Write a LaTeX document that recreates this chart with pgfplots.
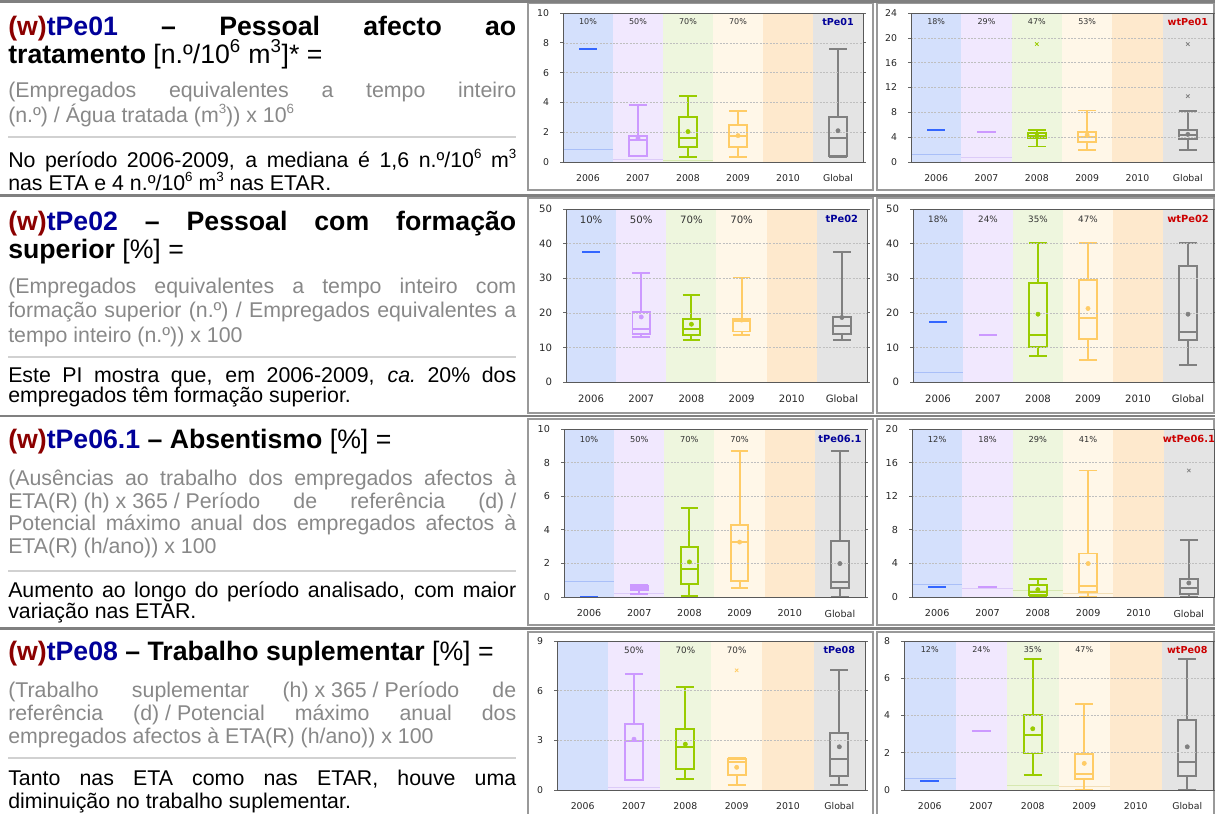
\documentclass[border=0pt]{standalone}
\usepackage{fontspec}
\setmainfont{Liberation Sans}
\newfontfamily\chartfont{DejaVu Sans}
\usepackage{pgfplots}
\pgfplotsset{compat=1.18}
\usepgfplotslibrary{statistics}
\definecolor{bA}{HTML}{D4E0FC}
\definecolor{bB}{HTML}{F1E8FE}
\definecolor{bC}{HTML}{EEF6DE}
\definecolor{bD}{HTML}{FFF7E8}
\definecolor{bE}{HTML}{FEE9CD}
\definecolor{bF}{HTML}{E4E4E4}
\definecolor{cA}{HTML}{3366FF}
\definecolor{cB}{HTML}{CC99FF}
\definecolor{cC}{HTML}{99CC00}
\definecolor{cD}{HTML}{FFCC66}
\definecolor{cF}{HTML}{808080}
\definecolor{fA}{HTML}{A9BFF8}
\definecolor{fB}{HTML}{DCCBF8}
\definecolor{fC}{HTML}{D6E8B0}
\definecolor{fD}{HTML}{F3DFB8}
\definecolor{tblue}{HTML}{000099}
\definecolor{wred}{HTML}{CC0000}
\definecolor{maroon}{HTML}{8B0000}
\definecolor{txtgray}{HTML}{888888}
\pgfplotsset{chart/.style={scale only axis, anchor=south west, xmin=-0.5, xmax=5.5, ymin=0,
  xtick={0,...,5}, xticklabels={2006,2007,2008,2009,2010,Global}, x tick style={draw=none},
  axis on top, ymajorgrids, grid style={dash pattern=on 1.5pt off 1pt, black!25, line width=0.4pt},
  axis line style={black!65, line width=0.6pt}, tick align=outside, major tick length=2pt,
  y tick style={black!60, line width=0.5pt}, /pgf/number format/assume math mode=true,
  ticklabel style={font=\chartfont\fontsize{#1}{#1}\selectfont, text=black!85},
  xticklabel style={yshift=-4pt}, yticklabel style={xshift=-5pt}}}
\newcommand\bands[1]{%
  \addplot[fill=bA,draw=none] coordinates {(-0.5,#1)(0.5,#1)}\closedcycle;
  \addplot[fill=bB,draw=none] coordinates {(0.5,#1)(1.5,#1)}\closedcycle;
  \addplot[fill=bC,draw=none] coordinates {(1.5,#1)(2.5,#1)}\closedcycle;
  \addplot[fill=bD,draw=none] coordinates {(2.5,#1)(3.5,#1)}\closedcycle;
  \addplot[fill=bE,draw=none] coordinates {(3.5,#1)(4.5,#1)}\closedcycle;
  \addplot[fill=bF,draw=none] coordinates {(4.5,#1)(5.5,#1)}\closedcycle;}
% color, pos, lw, lq, med, uq, uw, mean
\newcommand\bx[8]{%
  \addplot[#1, line width=1.45pt, boxplot prepared={draw direction=y, draw position=#2, lower whisker=#3,
    lower quartile=#4, median=#5, upper quartile=#6, upper whisker=#7,
    box extend=0.35, whisker extend=0.35}] coordinates {};
  \addplot[#1, only marks, mark=*, mark size=1.6pt] coordinates {(#2,#8)};}
\newcommand\hln[4]{\addplot[#1, line width=1.5pt] coordinates {(#2,#4)(#3,#4)};}
\newcommand\fln[4]{\addplot[#1, line width=0.6pt] coordinates {(#2,#4)(#3,#4)};}
\newcommand\oln[3]{\addplot[#1, only marks, mark=x, mark size=1.8pt, line width=0.6pt] coordinates {(#2,#3)};}
\newcommand\pln[4]{\node[font=\chartfont\fontsize{#1}{#1}\selectfont, text=black!80] at (axis cs:#2,#3) {#4};}
\newcommand\nmn[5]{\node[font=\chartfont\bfseries\fontsize{#1}{#1}\selectfont, text=#5] at (axis cs:#2,#3) {#4};}
\newcommand\HD{\fontsize{20}{24}\selectfont}
\newcommand\BD{\fontsize{16}{19}\selectfont}
\newcommand\Jn[3]{\node[anchor=base west, inner sep=0pt, font=#2] at (8,#1) {\makebox[381pt][s]{#3}};}
\newcommand\Ln[3]{\node[anchor=base west, inner sep=0pt, font=#2] at (8,#1) {#3};}
\newcommand\wtn[1]{\textcolor{maroon}{\textbf{(w)}}\textcolor{tblue}{\textbf{#1}}}
\newcommand\sps[1]{\raisebox{0.4em}{\fontsize{10}{10}\selectfont #1}}
\begin{document}
\begin{tikzpicture}[x=0.75pt,y=-0.75pt]
\useasboundingbox (0,0) rectangle (1215,814);
% table rules
\foreach \ya/\yb in {3/190, 198/413, 419/625, 632/816} {
  \draw[black!40, line width=0.9pt] (528,\ya) rectangle (873,\yb);
  \draw[black!40, line width=0.9pt] (877,\ya) rectangle (1214,\yb);}
\foreach \yy in {1.5,195.5,416,628.5} {\draw[black!50, line width=2pt] (0,\yy) -- (1215,\yy);}
\foreach \yy in {137,357,571,758} {\draw[black!18, line width=1pt] (8,\yy) -- (516,\yy);}
% ---------- left text ----------
\Jn{35}{\HD}{\wtn{tPe01} \textbf{– Pessoal afecto ao}}
\Ln{63}{\HD}{\textbf{tratamento} [n.º/10\textsuperscript{6} m\textsuperscript{3}]* =}
\Jn{97}{\BD\color{txtgray}}{(Empregados equivalentes a tempo inteiro}
\Ln{122}{\BD\color{txtgray}}{(n.º) / Água tratada (m\sps{3})) x 10\sps{6}}
\Jn{167}{\BD}{No período 2006-2009, a mediana é 1,6 n.º/10\sps{6} m\sps{3}}
\Ln{190}{\BD}{nas ETA e 4 n.º/10\sps{6} m\sps{3} nas ETAR.}
%
\Jn{230}{\HD}{\wtn{tPe02} \textbf{– Pessoal com formação}}
\Ln{258}{\HD}{\textbf{superior} [\%] =}
\Jn{293}{\BD\color{txtgray}}{(Empregados equivalentes a tempo inteiro com}
\Jn{317}{\BD\color{txtgray}}{formação superior (n.º) / Empregados equivalentes a}
\Ln{342}{\BD\color{txtgray}}{tempo inteiro (n.º)) x 100}
\Jn{382}{\BD}{Este PI mostra que, em 2006-2009, \textit{ca.}\ 20\% dos}
\Ln{402}{\BD}{empregados têm formação superior.}
%
\Ln{448}{\HD}{\wtn{tPe06.1} \textbf{– Absentismo} [\%] =}
\Jn{485}{\BD\color{txtgray}}{(Ausências ao trabalho dos empregados afectos à}
\Jn{508}{\BD\color{txtgray}}{\mbox{ETA(R) (h) x 365 / Período} de referência \mbox{(d) /}}
\Jn{530}{\BD\color{txtgray}}{Potencial máximo anual dos empregados afectos à}
\Ln{553}{\BD\color{txtgray}}{ETA(R) (h/ano)) x 100}
\Jn{597}{\BD}{Aumento ao longo do período analisado, com maior}
\Ln{618}{\BD}{variação nas ETAR.}
%
\Ln{660}{\HD}{\wtn{tPe08} \textbf{– Trabalho suplementar} [\%] =}
\Jn{697}{\BD\color{txtgray}}{(Trabalho suplementar \mbox{(h) x 365 / Período} de}
\Jn{720}{\BD\color{txtgray}}{referência \mbox{(d) / Potencial} máximo anual dos}
\Ln{743}{\BD\color{txtgray}}{empregados afectos à ETA(R) (h/ano)) x 100}
\Jn{785}{\BD}{Tanto nas ETA como nas ETAR, houve uma}
\Ln{808}{\BD}{diminuição no trabalho suplementar.}
% ---------- Chart A: tPe01 ----------
\begin{axis}[chart=7, at={(422.25pt,-121.5pt)}, width=225pt, height=111.75pt, ymax=10, ytick={0,2,...,10}]
\bands{10}
\fln{fA}{-0.5}{0.5}{0.87}\fln{fB}{0.5}{1.5}{0.2}\fln{fC}{1.5}{2.5}{0.1}
\hln{cA}{-0.18}{0.18}{7.6}
\bx{cB}{1}{0.38}{0.42}{1.5}{1.72}{3.85}{1.6}
\bx{cC}{2}{0.31}{0.98}{1.59}{3.02}{4.4}{2.04}
\bx{cD}{3}{0.31}{0.98}{1.72}{2.46}{3.45}{1.77}
\bx{cF}{5}{0.34}{0.42}{1.61}{3.02}{7.6}{2.1}
\pln{6}{0}{9.4}{10\%}\pln{6}{1}{9.4}{50\%}\pln{6}{2}{9.4}{70\%}\pln{6}{3}{9.4}{70\%}
\nmn{7.2}{5}{9.4}{tPe01}{tblue}
\end{axis}
% ---------- Chart B: wtPe01 ----------
\begin{axis}[chart=7, at={(683.25pt,-121.5pt)}, width=226.5pt, height=111.75pt, ymax=24, ytick={0,4,...,24}]
\bands{24}
\fln{fA}{-0.5}{0.5}{1.3}\fln{fB}{0.5}{1.5}{0.8}
\hln{cA}{-0.18}{0.18}{5.1}
\hln{cB}{0.82}{1.18}{4.85}
\bx{cC}{2}{2.5}{3.9}{4.25}{4.7}{5.2}{4.2}
\bx{cD}{3}{1.9}{3.2}{4.0}{4.8}{8.3}{4.35}
\bx{cF}{5}{1.9}{3.7}{4.4}{5.1}{8.2}{4.45}
\oln{cC}{2}{19}\oln{cF}{5}{19}\oln{cF}{5}{10.6}
\pln{6}{0}{22.56}{18\%}\pln{6}{1}{22.56}{29\%}\pln{6}{2}{22.56}{47\%}\pln{6}{3}{22.56}{53\%}
\nmn{7.2}{5}{22.56}{wtPe01}{wred}
\end{axis}
% ---------- Chart C: tPe02 ----------
\begin{axis}[chart=7.6, at={(424.5pt,-286.5pt)}, width=225.75pt, height=129.75pt, ymax=50, ytick={0,10,...,50}]
\bands{50}
\hln{cA}{-0.18}{0.18}{37.7}
\bx{cB}{1}{13.1}{13.9}{15.3}{20.1}{31.5}{18.8}
\bx{cC}{2}{12.2}{13.7}{15.3}{18.3}{25.2}{16.7}
\bx{cD}{3}{13.7}{14.6}{17.5}{18.3}{30.2}{17.9}
\bx{cF}{5}{12.2}{13.85}{16.25}{18.75}{37.7}{18.65}
\pln{7.6}{0}{47}{10\%}\pln{7.6}{1}{47}{50\%}\pln{7.6}{2}{47}{70\%}\pln{7.6}{3}{47}{70\%}
\nmn{7.4}{5}{47}{tPe02}{tblue}
\end{axis}
% ---------- Chart D: wtPe02 ----------
\begin{axis}[chart=7.6, at={(684.75pt,-286.5pt)}, width=225pt, height=129.75pt, ymax=50, ytick={0,10,...,50}]
\bands{50}
\fln{fA}{-0.5}{0.5}{2.9}
\hln{cA}{-0.18}{0.18}{17.2}
\hln{cB}{0.82}{1.18}{13.65}
\bx{cC}{2}{7.5}{10.0}{13.5}{28.6}{40.1}{19.6}
\bx{cD}{3}{6.35}{12.4}{18.5}{29.4}{40.1}{21.25}
\bx{cF}{5}{5.0}{12.2}{14.4}{33.6}{40.1}{19.6}
\pln{6.6}{0}{47}{18\%}\pln{6.6}{1}{47}{24\%}\pln{6.6}{2}{47}{35\%}\pln{6.6}{3}{47}{47\%}
\nmn{7.4}{5}{47}{wtPe02}{wred}
\end{axis}
% ---------- Chart E: tPe06.1 ----------
\begin{axis}[chart=7.2, at={(423pt,-447.75pt)}, width=225.75pt, height=126pt, ymax=10, ytick={0,2,...,10}]
\bands{10}
\fln{fA}{-0.5}{0.5}{0.94}\fln{fB}{0.5}{1.5}{0.2}
\hln{cA}{-0.18}{0.18}{0.03}
\bx{cB}{1}{0.16}{0.4}{0.54}{0.65}{0.7}{0.58}
\bx{cC}{2}{0.04}{0.8}{1.69}{2.95}{5.32}{2.09}
\bx{cD}{3}{0.54}{0.96}{3.29}{4.28}{8.67}{3.27}
\bx{cF}{5}{0}{0.54}{0.9}{3.33}{8.67}{1.99}
\pln{6.2}{0}{9.4}{10\%}\pln{6.2}{1}{9.4}{50\%}\pln{6.2}{2}{9.4}{70\%}\pln{6.2}{3}{9.4}{70\%}
\nmn{7.4}{5}{9.4}{tPe06.1}{tblue}
\end{axis}
% ---------- Chart F: wtPe06.1 ----------
\begin{axis}[chart=7.2, at={(684pt,-447.75pt)}, width=226.5pt, height=126pt, ymax=20, ytick={0,4,...,20}]
\bands{20}
\fln{fA}{-0.5}{0.5}{1.55}\fln{fB}{0.5}{1.5}{1.08}\fln{fC}{1.5}{2.5}{0.8}\fln{fD}{2.5}{3.5}{0.48}
\hln{cA}{-0.18}{0.18}{1.15}
\hln{cB}{0.82}{1.18}{1.23}
\bx{cC}{2}{0}{0.2}{0.6}{1.4}{2.1}{0.88}
\bx{cD}{3}{0}{0.6}{1.27}{5.18}{15.06}{3.98}
\bx{cF}{5}{0}{0.32}{1.08}{2.11}{6.77}{1.67}
\oln{cF}{5}{15.06}
\pln{6.2}{0}{18.8}{12\%}\pln{6.2}{1}{18.8}{18\%}\pln{6.2}{2}{18.8}{29\%}\pln{6.2}{3}{18.8}{41\%}
\nmn{7.4}{5}{18.8}{wtPe06.1}{wred}
\end{axis}
% ---------- Chart G: tPe08 ----------
\begin{axis}[chart=7, at={(417.75pt,-592.5pt)}, width=231pt, height=111.75pt, ymax=9, ytick={0,3,6,9}]
\bands{9}
\fln{fB}{0.5}{1.5}{0.16}
\bx{cB}{1}{0.6}{0.62}{2.95}{3.96}{7.0}{3.07}
\bx{cC}{2}{0.66}{1.29}{2.61}{3.71}{6.2}{2.77}
\bx{cD}{3}{0.3}{0.9}{1.7}{1.85}{1.95}{1.37}
\bx{cF}{5}{0.3}{0.86}{1.85}{3.47}{7.23}{2.61}
\oln{cD}{3}{7.23}
\pln{6.6}{1}{8.46}{50\%}\pln{6.6}{2}{8.46}{70\%}\pln{6.6}{3}{8.46}{70\%}
\nmn{7.2}{5}{8.46}{tPe08}{tblue}
\end{axis}
% ---------- Chart H: wtPe08 ----------
\begin{axis}[chart=7, at={(678pt,-592.5pt)}, width=231.75pt, height=111.75pt, ymax=8, ytick={0,2,...,8}]
\bands{8}
\fln{fA}{-0.5}{0.5}{0.63}\fln{fC}{1.5}{2.5}{0.25}\fln{fD}{2.5}{3.5}{0.21}
\hln{cA}{-0.18}{0.18}{0.5}
\hln{cB}{0.82}{1.18}{3.18}
\bx{cC}{2}{0.8}{1.96}{2.96}{4.02}{7.04}{3.29}
\bx{cD}{3}{0}{0.57}{0.84}{1.93}{4.6}{1.43}
\bx{cF}{5}{0}{0.77}{1.52}{3.77}{7.04}{2.32}
\pln{6}{0}{7.52}{12\%}\pln{6}{1}{7.52}{24\%}\pln{6}{2}{7.52}{35\%}\pln{6}{3}{7.52}{47\%}
\nmn{7.2}{5}{7.52}{wtPe08}{wred}
\end{axis}
\end{tikzpicture}
\end{document}
